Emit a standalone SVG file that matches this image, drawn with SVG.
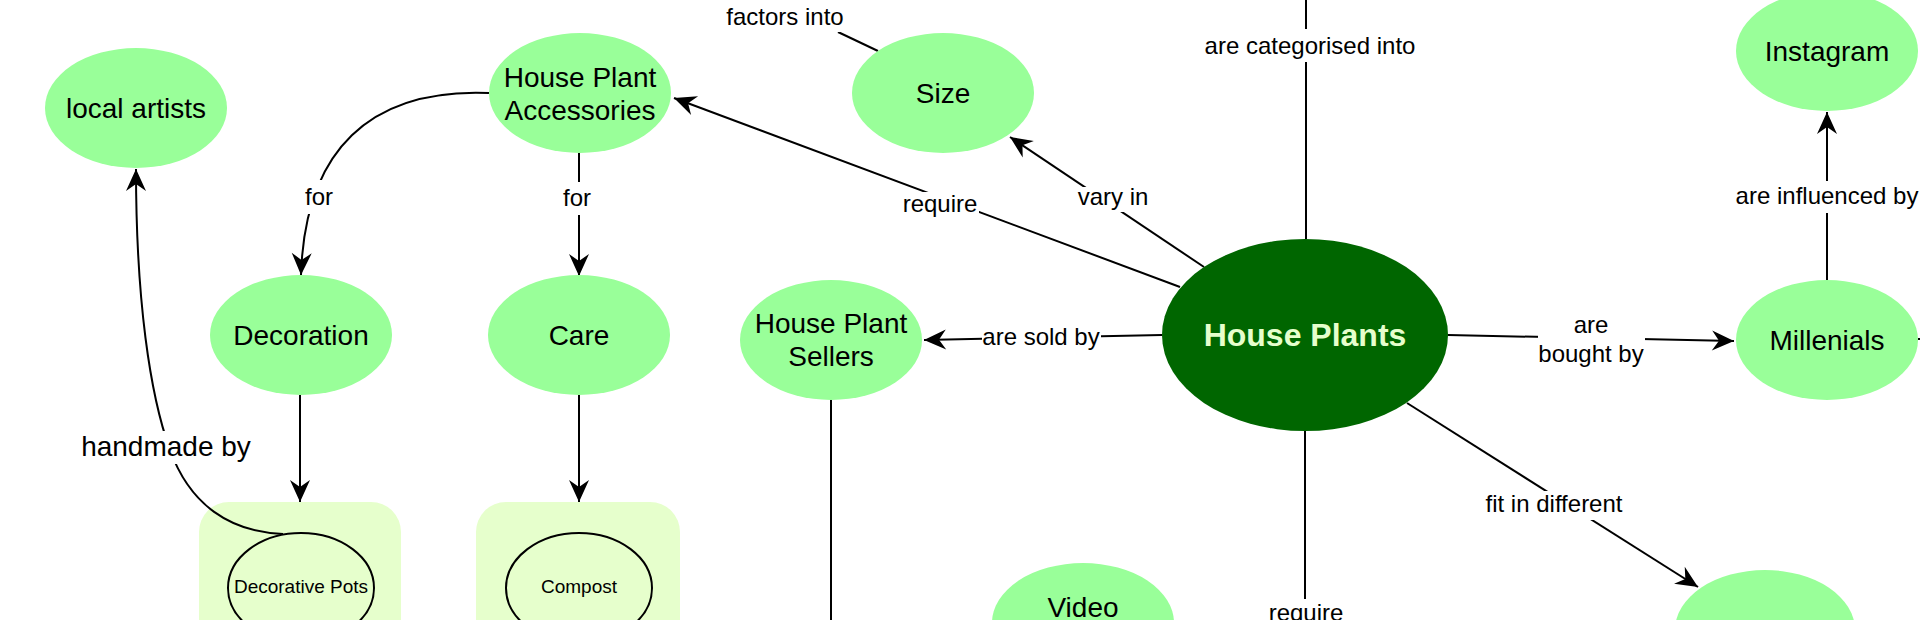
<svg xmlns="http://www.w3.org/2000/svg" width="1920" height="620" viewBox="0 0 1920 620">
<style>
.n{fill:#99ff99}
.t{font-family:"Liberation Sans",Arial,Helvetica,sans-serif;font-size:28px;fill:#000;text-anchor:middle}
.l{font-family:"Liberation Sans",Arial,Helvetica,sans-serif;font-size:24px;fill:#000;text-anchor:middle}
.s{font-family:"Liberation Sans",Arial,Helvetica,sans-serif;font-size:19px;fill:#000;text-anchor:middle}
.e{fill:none;stroke:#000;stroke-width:2}
.bg{fill:#fff}
.box{fill:#e6ffcc}
</style>
<defs>
<marker id="arr" viewBox="-23 -11 24 22" refX="0" refY="0" markerWidth="24" markerHeight="22" markerUnits="userSpaceOnUse" orient="auto">
<path d="M0,0 L-22,-10 L-15,0 L-22,10 z" fill="#000"/>
</marker>
</defs>
<rect width="1920" height="620" fill="#fff"/>
<g id="decorative-pots-group"><rect class="box" x="199" y="502" width="202" height="160" rx="30"/><ellipse cx="301" cy="588" rx="73" ry="55" fill="none" stroke="#000" stroke-width="2"/><text class="s" x="301" y="593">Decorative Pots</text></g>
<g id="compost-group"><rect class="box" x="476" y="502" width="204" height="160" rx="30"/><ellipse cx="579" cy="588" rx="73" ry="55" fill="none" stroke="#000" stroke-width="2"/><text class="s" x="579" y="593">Compost</text></g>
<g id="connectors">
<path class="e" d="M1180,287 L674,98" marker-end="url(#arr)"/>
<path class="e" d="M1204,267 L1010,137" marker-end="url(#arr)"/>
<path class="e" d="M878,51 L838,32"/>
<path class="e" d="M1306,239 L1306,0"/>
<path class="e" d="M1162,335 L924,340" marker-end="url(#arr)"/>
<path class="e" d="M1305,431 L1305,620"/>
<path class="e" d="M1448,335 L1734,341" marker-end="url(#arr)"/>
<path class="e" d="M1407,403 L1698,587" marker-end="url(#arr)"/>
<path class="e" d="M1827,280 L1827,112" marker-end="url(#arr)"/>
<path class="e" d="M1918,339 L1920,339"/>
<path class="e" d="M489,93 C370,88 305,150 301,275" marker-end="url(#arr)"/>
<path class="e" d="M579,153 L579,276" marker-end="url(#arr)"/>
<path class="e" d="M300,395 L300,502" marker-end="url(#arr)"/>
<path class="e" d="M579,395 L579,502" marker-end="url(#arr)"/>
<path class="e" d="M283,534 C230,532 190,505 170,450 C150,395 136,300 136,169" marker-end="url(#arr)"/>
<path class="e" d="M831,400 L831,620"/>
<rect class="bg" x="901" y="192" width="78" height="27"/>
<text class="l" x="940" y="212">require</text>
<rect class="bg" x="1077" y="187" width="72" height="25"/>
<text class="l" x="1113" y="205">vary in</text>
<rect class="bg" x="726" y="4" width="118" height="28"/>
<text class="l" x="785" y="25">factors into</text>
<rect class="bg" x="1204" y="29" width="213" height="33"/>
<text class="l" x="1310" y="54">are categorised into</text>
<rect class="bg" x="982" y="324" width="119" height="29"/>
<text class="l" x="1041" y="345">are sold by</text>
<rect class="bg" x="1267" y="599" width="78" height="21"/>
<text class="l" x="1306" y="621">require</text>
<rect class="bg" x="1538" y="312" width="107" height="58"/>
<text class="l" x="1591" y="333">are</text>
<text class="l" x="1591" y="362">bought by</text>
<rect class="bg" x="1485" y="491" width="139" height="29"/>
<text class="l" x="1554" y="512">fit in different</text>
<rect class="bg" x="1735" y="181" width="184" height="32"/>
<text class="l" x="1827" y="204">are influenced by</text>
<rect class="bg" x="304" y="180" width="30" height="34"/>
<text class="l" x="319" y="205">for</text>
<rect class="bg" x="562" y="182" width="30" height="33"/>
<text class="l" x="577" y="206">for</text>
<rect class="bg" x="80" y="431" width="172" height="33"/>
<text class="t" x="166" y="456">handmade by</text>
</g>
<g id="local-artists"><ellipse class="n" cx="136" cy="108" rx="91" ry="60"/><text class="t" x="136" y="118">local artists</text></g>
<g id="house-plant-accessories"><ellipse class="n" cx="580" cy="93" rx="91" ry="60"/><text class="t" x="580" y="87">House Plant</text><text class="t" x="580" y="120">Accessories</text></g>
<g id="size"><ellipse class="n" cx="943" cy="93" rx="91" ry="60"/><text class="t" x="943" y="103">Size</text></g>
<g id="instagram"><ellipse class="n" cx="1827" cy="51" rx="91" ry="60"/><text class="t" x="1827" y="61">Instagram</text></g>
<g id="decoration"><ellipse class="n" cx="301" cy="335" rx="91" ry="60"/><text class="t" x="301" y="345">Decoration</text></g>
<g id="care"><ellipse class="n" cx="579" cy="335" rx="91" ry="60"/><text class="t" x="579" y="345">Care</text></g>
<g id="house-plant-sellers"><ellipse class="n" cx="831" cy="340" rx="91" ry="60"/><text class="t" x="831" y="333">House Plant</text><text class="t" x="831" y="366">Sellers</text></g>
<g id="house-plants"><ellipse cx="1305" cy="335" rx="143" ry="96" fill="#006600"/><text x="1305" y="346" text-anchor="middle" font-family="Liberation Sans, Arial, Helvetica, sans-serif" font-size="32" font-weight="bold" fill="#e6ffcc">House Plants</text></g>
<g id="millenials"><ellipse class="n" cx="1827" cy="340" rx="91" ry="60"/><text class="t" x="1827" y="350">Millenials</text></g>
<g id="video"><ellipse class="n" cx="1083" cy="623" rx="91" ry="60"/><text class="t" x="1083" y="617">Video</text></g>
<g id="spaces"><ellipse class="n" cx="1765" cy="630" rx="90" ry="60"/></g>
</svg>
